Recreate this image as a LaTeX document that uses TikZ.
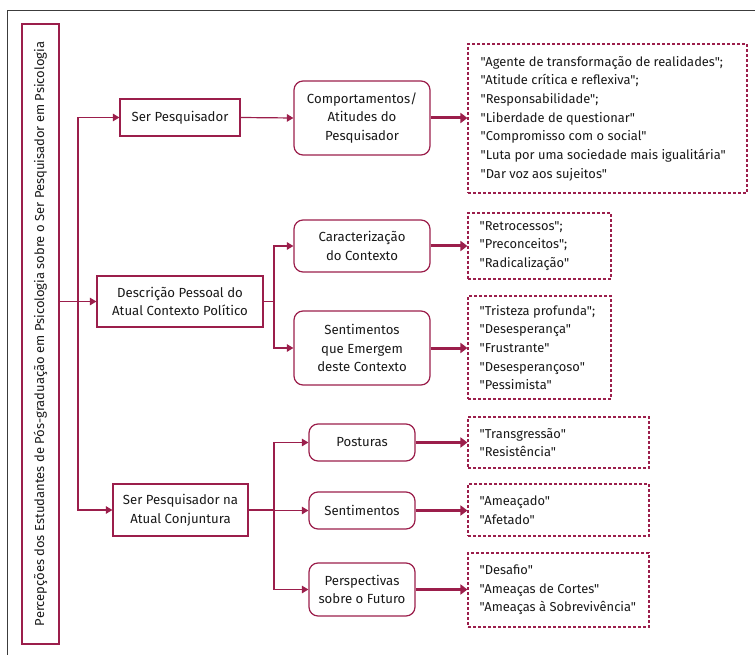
\documentclass[tikz,border=0pt]{standalone}
\usepackage{fontspec}
\setmainfont{Fira Sans}[Ligatures=TeXOff]
\usetikzlibrary{arrows.meta}
\definecolor{wine}{RGB}{155,30,75}
\definecolor{txt}{RGB}{25,25,25}
\definecolor{frame}{RGB}{60,60,60}
\begin{document}
\begin{tikzpicture}[x=1pt,y=-1pt,
  font=\fontsize{13.2}{18.7}\selectfont, text=txt,
  box/.style={draw=wine, line width=1.2pt, align=center, inner sep=0pt},
  rbox/.style={box, rounded corners=9pt},
  dbox/.style={draw=wine, dash pattern=on 3pt off 2pt, line width=1.1pt, inner sep=0pt},
  list/.style={align=left, inner sep=0pt, anchor=west, font=\fontsize{12.9}{18.7}\selectfont},
  conn/.style={draw=wine, line width=1.2pt, -{Triangle[width=7.5pt,length=6.5pt]}},
  fat/.style={draw=wine, line width=3pt, -{Triangle[width=10pt,length=7pt]}},
  plain/.style={draw=wine, line width=1.2pt}]
\useasboundingbox (0,0) rectangle (755,655);
\draw[frame, line width=1pt] (7,700) -- (7,10.5) -- (800,10.5);

\node[box, rotate=90, minimum width=620, minimum height=37, font=\fontsize{13}{16}\selectfont] (title) at (40.5,334)
  {Percepções dos Estudantes de Pós-graduação em Psicologia sobre o Ser Pesquisador em Psicologia};

\node[box, minimum width=120, minimum height=37] (sp) at (180,117.5) {Ser Pesquisador};
\node[box, minimum width=166, minimum height=51] (desc) at (180,301.5) {Descrição Pessoal do\\Atual Contexto Político};
\node[box, minimum width=135, minimum height=52] (spa) at (180.5,510) {Ser Pesquisador na\\Atual Conjuntura};

\node[rbox, minimum width=136, minimum height=74] (comp) at (362,118) {Comportamentos/\\Atitudes do\\Pesquisador};
\node[rbox, minimum width=136, minimum height=52] (car) at (362,246) {Caracterização\\do Contexto};
\node[rbox, minimum width=136, minimum height=74] (sent) at (362,348) {Sentimentos\\que Emergem\\deste Contexto};
\node[rbox, minimum width=106, minimum height=37] (post) at (362,442.5) {Posturas};
\node[rbox, minimum width=106, minimum height=37] (sent2) at (362,510.5) {Sentimentos};
\node[rbox, minimum width=106, minimum height=53] (persp) at (362,589.5) {Perspectivas\\sobre o Futuro};

\node[dbox, minimum width=279, minimum height=149] (d1) at (607.5,118.5) {};
\node[dbox, minimum width=143, minimum height=66] (d2) at (539.5,246) {};
\node[dbox, minimum width=143, minimum height=103] (d3) at (539.5,347.5) {};
\node[dbox, minimum width=181, minimum height=51] (d4) at (558.5,442.5) {};
\node[dbox, minimum width=181, minimum height=52] (d5) at (558.5,510) {};
\node[dbox, minimum width=181, minimum height=74] (d6) at (558.5,590) {};

\node[list] (l1) at ([xshift=13pt]d1.west)
  {"Agente de transformação de realidades";\\"Atitude crítica e reflexiva";\\"Responsabilidade";\\"Liberdade de questionar"\\"Compromisso com o social"\\"Luta por uma sociedade mais igualitária"\\"Dar voz aos sujeitos"};
\node[list] (l2) at ([xshift=12pt]d2.west)
  {"Retrocessos";\\"Preconceitos";\\"Radicalização"};
\node[list] (l3) at ([xshift=12pt]d3.west)
  {"Tristeza profunda";\\"Desesperança"\\"Frustrante"\\"Desesperançoso"\\"Pessimista"};
\node[list] (l4) at ([xshift=12pt]d4.west)
  {"Transgressão"\\"Resistência"};
\node[list] (l5) at ([xshift=12pt]d5.west)
  {"Ameaçado"\\"Afetado"};
\node[list] (l6) at ([xshift=12pt]d6.west)
  {"Desafio"\\"Ameaças de Cortes"\\"Ameaças à Sobrevivência"};

% trunk
\coordinate (t1) at (78,301.5);
\draw[conn] (title.south |- desc.west) -- (desc.west);
\draw[conn] (t1) |- (sp.west);
\draw[conn] (t1) |- (spa.west);

\draw[conn] (sp.east) -- (comp.west);

\coordinate (b1) at (274,301.5);
\draw[plain] (desc.east) -- (b1);
\draw[conn] (b1) |- (car.west);
\draw[conn] (b1) |- (sent.west);

\coordinate (b2) at (274,510);
\draw[plain] (spa.east) -- (b2);
\draw[conn] (b2) |- (post.west);
\draw[conn] (b2) |- (sent2.west);
\draw[conn] (b2) |- (persp.west);

\draw[fat] (comp.east) -- (comp.east -| d1.west);
\draw[fat] (car.east) -- (car.east -| d2.west);
\draw[fat] (sent.east) -- (sent.east -| d3.west);
\draw[fat] (post.east) -- (post.east -| d4.west);
\draw[fat] (sent2.east) -- (sent2.east -| d5.west);
\draw[fat] (persp.east) -- (persp.east -| d6.west);
\end{tikzpicture}
\end{document}
